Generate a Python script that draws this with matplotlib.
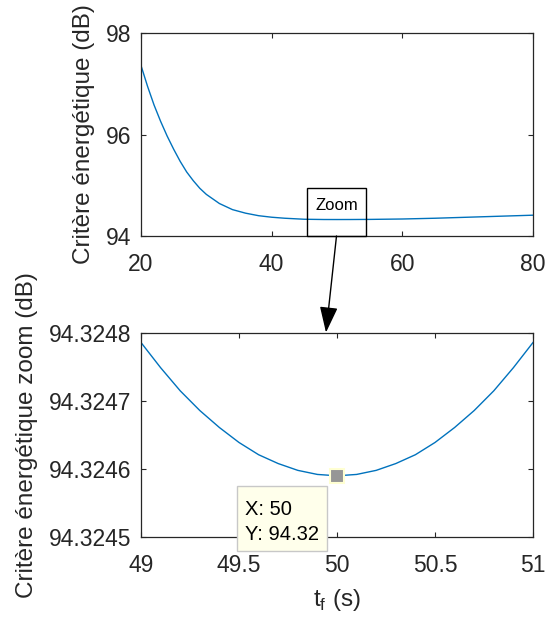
import matplotlib
matplotlib.use("Agg")
import matplotlib.pyplot as plt
from matplotlib.patches import Rectangle

plt.rcParams["font.family"] = ["Liberation Sans", "DejaVu Sans"]
plt.rcParams["mathtext.fontset"] = "custom"
plt.rcParams["mathtext.rm"] = "Liberation Sans"

# full sweep of final time (top panel)
tf_full = [20, 21, 22, 23, 24, 25, 26, 27, 28, 29, 30, 32, 34, 36, 38, 40,
           42, 45, 48, 50, 52, 55, 60, 65, 70, 75, 80]
crit_full = [97.36, 96.95, 96.58, 96.26, 95.97, 95.71, 95.47, 95.26, 95.09,
             94.94, 94.82, 94.64, 94.52, 94.45, 94.40, 94.37, 94.35, 94.33,
             94.325, 94.3246, 94.325, 94.327, 94.335, 94.35, 94.37, 94.39,
             94.41]

# zoom around the optimum (bottom panel)
tf_zoom = [49.0, 49.1, 49.2, 49.3, 49.4, 49.5, 49.6, 49.7, 49.8, 49.9, 50.0,
           50.1, 50.2, 50.3, 50.4, 50.5, 50.6, 50.7, 50.8, 50.9, 51.0]
crit_zoom = [94.324786, 94.324749, 94.324715, 94.324686, 94.324661,
             94.324639, 94.324621, 94.324608, 94.324598, 94.324592,
             94.324590, 94.324592, 94.324598, 94.324608, 94.324621,
             94.324639, 94.324661, 94.324686, 94.324715, 94.324749,
             94.324786]

tip_x = 50
tip_y = 94.324590

top_xticks = [20, 40, 60, 80]
top_yticks = [94, 96, 98]
bot_xticks = [49, 49.5, 50, 50.5, 51]
bot_yticks = [94.3245, 94.3246, 94.3247, 94.3248]

W, H = 545, 617
fig = plt.figure(figsize=(W / 100, H / 100), dpi=100)

dark = "#262626"
blue = "#0072BD"
fs = 16.5
fs_lab = 17.5


def style(ax):
    for s in ax.spines.values():
        s.set_color(dark)
        s.set_linewidth(0.9)
    ax.tick_params(direction="in", top=True, right=True, length=3.5,
                   width=0.8, colors=dark, labelsize=fs)
    ax.tick_params(axis="x", pad=12)
    ax.tick_params(axis="y", pad=7)


ax1 = fig.add_axes([141 / W, 1 - 236 / H, 392 / W, 203 / H])
ax1.plot(tf_full, crit_full, color=blue, lw=1.0)
ax1.set_xlim(20, 80)
ax1.set_ylim(94, 98)
ax1.set_xticks(top_xticks)
ax1.set_yticks(top_yticks)
ax1.set_xticklabels([str(v) for v in top_xticks])
ax1.set_yticklabels([str(v) for v in top_yticks])
style(ax1)
ax1.set_ylabel("Critère énergétique (dB)", fontsize=fs_lab, color=dark)
ax1.yaxis.set_label_coords(-0.117, 0.5)

# zoom box
ax1.add_patch(Rectangle((45.4, 94), 9.0, 0.95, fill=False, edgecolor="black",
                        lw=1.0, clip_on=False, zorder=3))
ax1.text(50, 94.6, "Zoom", fontsize=12, ha="center", va="center")

ax2 = fig.add_axes([141 / W, 1 - 537 / H, 392 / W, 204 / H])
ax2.plot(tf_zoom, crit_zoom, color=blue, lw=1.0)
ax2.set_xlim(49, 51)
ax2.set_ylim(94.3245, 94.3248)
ax2.set_xticks(bot_xticks)
ax2.set_yticks(bot_yticks)
ax2.set_xticklabels(["49", "49.5", "50", "50.5", "51"])
ax2.set_yticklabels(["%.4f" % v for v in bot_yticks])
style(ax2)
ax2.set_ylabel("Critère énergétique zoom (dB)", fontsize=fs_lab, color=dark)
ax2.yaxis.set_label_coords(-0.262, 0.5)
ax2.set_xlabel(r"t$_{\mathrm{f}}$ (s)", fontsize=fs_lab, color=dark)
ax2.xaxis.set_label_coords(0.5, -0.245)

# data tip
ax2.plot([tip_x], [tip_y], marker="s", ms=10, mfc="#969696", mec="#FFFFD2",
         mew=1.5, clip_on=False, zorder=5)
ax2.add_patch(Rectangle((49.49, 94.3244787), 0.46, 0.0000963,
                        facecolor="#FFFFEB", edgecolor="#C8C8C8", lw=1.0,
                        clip_on=False, zorder=6))
ax2.text(49.53, 94.324533, "X: 50", fontsize=14.5, va="baseline", zorder=7,
         clip_on=False)
ax2.text(49.53, 94.324495, "Y: 94.32", fontsize=14.5, va="baseline", zorder=7,
         clip_on=False)

# arrow from zoom box down to the zoomed panel
fig.add_artist(plt.Annotation(
    "", xy=(326 / W, 1 - 332.5 / H), xytext=(336.5 / W, 1 - 236 / H),
    xycoords="figure fraction", textcoords="figure fraction",
    arrowprops=dict(arrowstyle="-|>,head_length=0.8,head_width=0.28",
                    mutation_scale=20, color="black", lw=1.0,
                    shrinkA=0, shrinkB=0)))

fig.savefig("out.png", dpi=100)
